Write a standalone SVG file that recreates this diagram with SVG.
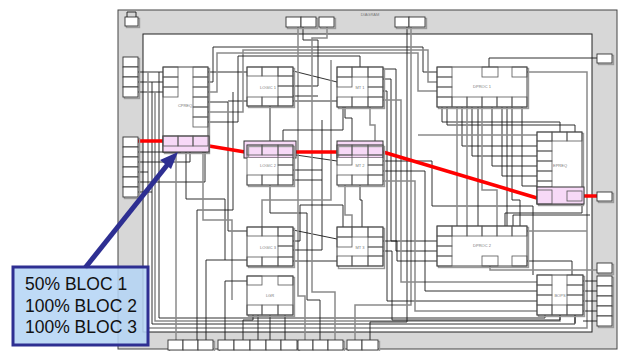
<svg xmlns="http://www.w3.org/2000/svg" width="621" height="351" viewBox="0 0 621 351">
<defs>
<style>
.bx{fill:#fff;stroke:#333;stroke-width:0.9}
.sh{fill:none;stroke:#9a9a9a;stroke-width:1.4}
.sb{fill:none;stroke:#555;stroke-width:0.8}
.k{fill:none;stroke:#1a1a1a;stroke-width:0.9}
.g{fill:none;stroke:#8a8a8a;stroke-width:1.5}
.r{fill:none;stroke:#ff0000;stroke-width:3.5;stroke-linecap:butt}
.pk{fill:#f7d9f7;stroke:#333;stroke-width:1}
.lb{font-family:"Liberation Sans",Arial,sans-serif;font-size:4px;fill:#777;text-anchor:middle}
.ct{font-family:"Liberation Sans",Arial,sans-serif;font-size:17.5px;fill:#111}
</style>
</defs>
<rect x="118" y="10" width="499" height="339" fill="#d7d7d7" stroke="#444" stroke-width="1"/>
<rect x="143" y="34" width="449" height="298" fill="#fff" stroke="#222" stroke-width="1"/>
<text class="lb" x="370" y="16">DIAGRAM</text>

<g id="connectors">
<path class="k" d="M138,72H163M138,82H163M138,92H163"/>
<path class="g" d="M148,72V328H587V72H527"/>
<path class="k" d="M152,82V324H575V315"/>
<path class="g" d="M155,92V321H560V315"/>
<path class="k" d="M159,72V318H545V315"/>
<path class="k" d="M138,152H181V148M138,162H190V148M138,182H205V148M138,172H148M138,192H152"/>
<path class="g" d="M176,152V340"/>
<path class="k" d="M186,152V199H225V260"/>
<path class="k" d="M208,72H247"/>
<path class="k" d="M208,82H213V47H423V72H437"/>
<path class="g" d="M208,92H217V53H418V91H437"/>
<path class="k" d="M208,102H228V231H247M228,101H247"/>
<path class="g" d="M208,112H243V50H428V82H437"/>
<path class="k" d="M208,122H238V56H360V67"/>
<path class="k" d="M233,92V210H197V340"/>
<path class="g" d="M203,152V220H232V300"/>
<path class="k" d="M293,71L337,82M293,101H337M270,106V145M296,155L337,161M293,230L337,239M293,261H337"/>
<path class="k" d="M247,260H206V340M247,281H225V340M253,315V320H243V340M258,315V340M285,315V340M270,315V340"/>
<path class="k" d="M270,185V213H307V300H320V340"/>
<path class="g" d="M298,27V296H305V340"/>
<path class="k" d="M303,27V40H318V86H293M318,96H293"/>
<path class="g" d="M327,27V38H312V292H335V340"/>
<path class="k" d="M322,170H293M322,180H293M322,120V250H293"/>
<path class="g" d="M331,60V200H262V227"/>
<path class="k" d="M293,241H300V205H343V227"/>
<path class="k" d="M283,145V130H343V107"/>
<path class="g" d="M345,185V215H352V227"/>
<path class="k" d="M360,185V200H362V227"/>
<path class="k" d="M345,107V118H352V145"/>
<path class="g" d="M370,107V125H375V145"/>
<path class="k" d="M407,27V322H370V340"/>
<path class="g" d="M411,27V305H355V340"/>
<path class="k" d="M383,69H396V251H437"/>
<path class="k" d="M383,79H391V241H437"/>
<path class="k" d="M383,91H387V301H537"/>
<path class="g" d="M383,100H401V282H537"/>
<path class="k" d="M383,161H432V206H533V275"/>
<path class="k" d="M383,171H425V291H537"/>
<path class="g" d="M383,181H415V311H537"/>
<path class="k" d="M383,241H397V261H437"/>
<path class="k" d="M383,251H392V320H560"/>
<path class="k" d="M442,107V122H560V132M447,107V125H575V132"/>
<path class="k" d="M462,107V146H537M472,107V156H537M492,107V166H537M502,107V176H537M522,107V186H537"/>
<path class="g" d="M457,107V226M467,107V226M482,107V190H497V226"/>
<path class="k" d="M478,107V226M507,107V226M512,107V200H520V226"/>
<path class="g" d="M418,135H537"/>
<path class="k" d="M597,58H489V67"/>
<path class="g" d="M527,231H587"/>
<path class="k" d="M527,261H572V275"/>
<path class="g" d="M490,266V270H597"/>
<path class="k" d="M505,226V213H582V204"/>
<path class="k" d="M583,281H597M583,291H597M583,301H597M583,311H597M583,321H597"/>
<path class="k" d="M560,315V320M575,315V323"/>
<path class="k" d="M513,226V215H590"/>
</g>

<g id="red-path">
<path class="r" d="M138,141H163"/>
<path class="r" d="M209,146L245,152"/>
<path class="r" d="M296,152H337"/>
<path class="r" d="M383,152L537,198"/>
<path class="r" d="M584,196H607"/>
</g>

<g id="top-icon">
<rect class="sh" x="126.5" y="18.5" width="13" height="9"/>
<rect class="bx" x="125" y="17" width="13" height="9"/>
<path class="k" d="M127,17V12H136V17"/>
</g>
<g id="top-io">
<rect class="sh" x="287.5" y="18.5" width="30" height="10"/>
<rect class="bx" x="286" y="17" width="15" height="10"/><rect class="bx" x="301" y="17" width="15" height="10"/>
<rect class="sh" x="320.5" y="18.5" width="15" height="10"/>
<rect class="bx" x="319" y="17" width="15" height="10"/>
<rect class="sh" x="396.5" y="18.5" width="30" height="10"/>
<rect class="bx" x="395" y="17" width="14" height="10"/><rect class="bx" x="409" y="17" width="16" height="10"/>
</g>
<g id="left-io-1">
<rect class="sh" x="124.5" y="58.5" width="15" height="40"/>
<rect class="bx" x="123" y="57" width="15" height="10"/><rect class="bx" x="123" y="67" width="15" height="10"/><rect class="bx" x="123" y="77" width="15" height="10"/><rect class="bx" x="123" y="87" width="15" height="10"/>
</g>
<g id="left-io-2">
<rect class="sh" x="124.5" y="138.5" width="15" height="60"/>
<rect class="bx" x="123" y="137" width="15" height="10"/><rect class="bx" x="123" y="147" width="15" height="10"/><rect class="bx" x="123" y="157" width="15" height="10"/><rect class="bx" x="123" y="167" width="15" height="10"/><rect class="bx" x="123" y="177" width="15" height="10"/><rect class="bx" x="123" y="187" width="15" height="10"/>
</g>
<g id="right-io">
<rect class="sh" x="598.5" y="55.5" width="15" height="9"/><rect class="bx" x="597" y="54" width="15" height="9"/>
<rect class="sh" x="598.5" y="193.5" width="15" height="9"/><rect class="bx" x="597" y="192" width="15" height="9"/>
<rect class="sh" x="598.5" y="264.5" width="15" height="10"/><rect class="bx" x="597" y="263" width="15" height="10"/>
<rect class="sh" x="598.5" y="277.5" width="15" height="50"/>
<rect class="bx" x="597" y="276" width="15" height="10"/><rect class="bx" x="597" y="286" width="15" height="10"/><rect class="bx" x="597" y="296" width="15" height="10"/><rect class="bx" x="597" y="306" width="15" height="10"/><rect class="bx" x="597" y="316" width="15" height="10"/>
</g>
<g id="bottom-io">
<rect class="sh" x="169.5" y="341.5" width="45" height="10"/>
<rect class="bx" x="168" y="340" width="15" height="10"/><rect class="bx" x="183" y="340" width="15" height="10"/><rect class="bx" x="198" y="340" width="15" height="10"/>
<rect class="sh" x="219.5" y="341.5" width="79" height="10"/>
<rect class="bx" x="218" y="340" width="16" height="10"/><rect class="bx" x="234" y="340" width="16" height="10"/><rect class="bx" x="250" y="340" width="16" height="10"/><rect class="bx" x="266" y="340" width="15" height="10"/><rect class="bx" x="281" y="340" width="16" height="10"/>
<rect class="sh" x="299.5" y="341.5" width="45" height="10"/>
<rect class="bx" x="298" y="340" width="15" height="10"/><rect class="bx" x="313" y="340" width="15" height="10"/><rect class="bx" x="328" y="340" width="15" height="10"/>
<rect class="sh" x="348.5" y="341.5" width="31" height="10"/>
<rect class="bx" x="347" y="340" width="15" height="10"/><rect class="bx" x="362" y="340" width="16" height="10"/>
</g>

<g id="cpreq">
<rect class="sh" x="164.5" y="68.5" width="45" height="85"/>
<rect class="bx" x="163" y="67" width="45" height="85"/>
<rect class="sb" x="163" y="67" width="15" height="10"/><rect class="sb" x="163" y="77" width="15" height="10"/><rect class="sb" x="163" y="87" width="15" height="10"/>
<rect class="sb" x="193" y="67" width="15" height="10"/><rect class="sb" x="193" y="77" width="15" height="10"/><rect class="sb" x="193" y="87" width="15" height="10"/><rect class="sb" x="193" y="97" width="15" height="10"/><rect class="sb" x="193" y="107" width="15" height="10"/><rect class="sb" x="193" y="117" width="15" height="10"/>
<rect class="pk" x="163" y="136" width="46" height="16"/>
<rect class="sb" x="163" y="136" width="15" height="10"/><rect class="sb" x="178" y="136" width="15" height="10"/><rect class="sb" x="193" y="136" width="15" height="10"/>
<text class="lb" x="185" y="107">CPREQ</text>
</g>

<g id="logic1">
<rect class="sh" x="248.5" y="68.5" width="46" height="39"/>
<rect class="bx" x="247" y="67" width="46" height="39"/>
<rect class="sb" x="247" y="67" width="15" height="9"/><rect class="sb" x="262" y="67" width="16" height="9"/><rect class="sb" x="278" y="67" width="15" height="9"/>
<rect class="sb" x="278" y="76" width="15" height="10"/><rect class="sb" x="278" y="86" width="15" height="11"/>
<rect class="sb" x="247" y="97" width="15" height="9"/><rect class="sb" x="262" y="97" width="16" height="9"/><rect class="sb" x="278" y="97" width="15" height="9"/>
<text class="lb" x="268" y="89">LOGIC 1</text>
</g>
<g id="logic2">
<rect x="244" y="141" width="52" height="17" fill="#f7d9f7" stroke="#333" stroke-width="1"/>
<rect class="sh" x="248.5" y="146.5" width="46" height="40"/>
<rect x="247" y="158" width="46" height="27" fill="#fff"/>
<rect class="sb" x="247" y="145" width="46" height="40"/>
<rect class="sb" x="247" y="145" width="15" height="10"/><rect class="sb" x="262" y="145" width="16" height="10"/><rect class="sb" x="278" y="145" width="15" height="10"/>
<rect class="sb" x="278" y="155" width="15" height="10"/><rect class="sb" x="278" y="165" width="15" height="10"/>
<rect class="sb" x="247" y="175" width="15" height="10"/><rect class="sb" x="262" y="175" width="16" height="10"/><rect class="sb" x="278" y="175" width="15" height="10"/>
<text class="lb" x="268" y="167">LOGIC 2</text>
</g>
<g id="logic3">
<rect class="sh" x="248.5" y="228.5" width="46" height="39"/>
<rect class="bx" x="247" y="227" width="46" height="39"/>
<rect class="sb" x="247" y="227" width="15" height="9"/><rect class="sb" x="262" y="227" width="16" height="9"/><rect class="sb" x="278" y="227" width="15" height="9"/>
<rect class="sb" x="278" y="236" width="15" height="10"/><rect class="sb" x="278" y="246" width="15" height="11"/>
<rect class="sb" x="247" y="257" width="15" height="9"/><rect class="sb" x="262" y="257" width="16" height="9"/><rect class="sb" x="278" y="257" width="15" height="9"/>
<text class="lb" x="268" y="249">LOGIC 3</text>
</g>
<g id="lgr">
<rect class="sh" x="248.5" y="277.5" width="46" height="39"/>
<rect class="bx" x="247" y="276" width="46" height="39"/>
<rect class="sb" x="247" y="276" width="15" height="9"/><rect class="sb" x="278" y="276" width="15" height="9"/>
<rect class="sb" x="247" y="305" width="15" height="10"/><rect class="sb" x="262" y="305" width="16" height="10"/><rect class="sb" x="278" y="305" width="15" height="10"/>
<text class="lb" x="270" y="297">LGR</text>
</g>

<g id="mt1">
<rect class="sh" x="338.5" y="68.5" width="46" height="40"/>
<rect class="bx" x="337" y="67" width="46" height="40"/>
<rect class="sb" x="337" y="67" width="15" height="10"/><rect class="sb" x="352" y="67" width="16" height="10"/><rect class="sb" x="368" y="67" width="15" height="10"/>
<rect class="sb" x="337" y="77" width="15" height="10"/><rect class="sb" x="368" y="77" width="15" height="10"/><rect class="sb" x="368" y="87" width="15" height="10"/>
<rect class="sb" x="337" y="97" width="15" height="10"/><rect class="sb" x="352" y="97" width="16" height="10"/><rect class="sb" x="368" y="97" width="15" height="10"/>
<text class="lb" x="360" y="89">MT 1</text>
</g>
<g id="mt2">
<rect x="337" y="141" width="46" height="17" fill="#f7d9f7" stroke="#333" stroke-width="1"/>
<rect class="sh" x="338.5" y="146.5" width="46" height="40"/>
<rect x="337" y="158" width="46" height="27" fill="#fff"/>
<rect class="sb" x="337" y="145" width="46" height="40"/>
<rect class="sb" x="337" y="145" width="15" height="10"/><rect class="sb" x="352" y="145" width="16" height="10"/><rect class="sb" x="368" y="145" width="15" height="10"/>
<rect class="sb" x="337" y="155" width="15" height="10"/><rect class="sb" x="368" y="155" width="15" height="10"/><rect class="sb" x="368" y="165" width="15" height="10"/>
<rect class="sb" x="337" y="175" width="15" height="10"/><rect class="sb" x="352" y="175" width="16" height="10"/><rect class="sb" x="368" y="175" width="15" height="10"/>
<text class="lb" x="360" y="167">MT 2</text>
</g>
<g id="mt3">
<rect class="sh" x="338.5" y="228.5" width="46" height="40"/>
<rect class="bx" x="337" y="227" width="46" height="39"/>
<rect class="sb" x="337" y="227" width="15" height="10"/><rect class="sb" x="352" y="227" width="16" height="10"/><rect class="sb" x="368" y="227" width="15" height="10"/>
<rect class="sb" x="337" y="237" width="15" height="10"/><rect class="sb" x="368" y="237" width="15" height="10"/><rect class="sb" x="368" y="247" width="15" height="9"/>
<rect class="sb" x="337" y="256" width="15" height="10"/><rect class="sb" x="352" y="256" width="16" height="10"/><rect class="sb" x="368" y="256" width="15" height="10"/>
<text class="lb" x="360" y="249">MT 3</text>
</g>

<g id="dproc1">
<rect class="sh" x="438.5" y="68.5" width="90" height="40"/>
<rect class="bx" x="437" y="67" width="90" height="40"/>
<rect class="sb" x="437" y="67" width="15" height="10"/><rect class="sb" x="437" y="77" width="15" height="10"/><rect class="sb" x="437" y="87" width="15" height="10"/>
<rect class="sb" x="482" y="67" width="16" height="10"/><rect class="sb" x="512" y="67" width="15" height="10"/>
<rect class="sb" x="437" y="97" width="15" height="10"/><rect class="sb" x="452" y="97" width="15" height="10"/><rect class="sb" x="467" y="97" width="15" height="10"/><rect class="sb" x="482" y="97" width="15" height="10"/><rect class="sb" x="497" y="97" width="15" height="10"/><rect class="sb" x="512" y="97" width="15" height="10"/>
<text class="lb" x="482" y="88">DPROC 1</text>
</g>
<g id="dproc2">
<rect class="sh" x="438.5" y="227.5" width="90" height="40"/>
<rect class="bx" x="437" y="226" width="90" height="40"/>
<rect class="sb" x="437" y="226" width="15" height="10"/><rect class="sb" x="452" y="226" width="15" height="10"/><rect class="sb" x="467" y="226" width="15" height="10"/><rect class="sb" x="482" y="226" width="15" height="10"/><rect class="sb" x="497" y="226" width="15" height="10"/><rect class="sb" x="512" y="226" width="15" height="10"/>
<rect class="sb" x="437" y="236" width="15" height="10"/><rect class="sb" x="437" y="246" width="15" height="10"/><rect class="sb" x="437" y="256" width="15" height="10"/>
<rect class="sb" x="482" y="256" width="16" height="10"/><rect class="sb" x="512" y="256" width="15" height="10"/>
<text class="lb" x="482" y="247">DPROC 2</text>
</g>

<g id="epreq">
<rect class="sh" x="538.5" y="133.5" width="45" height="72"/>
<rect class="bx" x="537" y="132" width="45" height="72"/>
<rect class="sb" x="537" y="132" width="15" height="9"/><rect class="sb" x="552" y="132" width="15" height="9"/><rect class="sb" x="567" y="132" width="15" height="9"/>
<rect class="sb" x="537" y="141" width="15" height="10"/><rect class="sb" x="537" y="151" width="15" height="10"/><rect class="sb" x="537" y="161" width="15" height="10"/><rect class="sb" x="537" y="171" width="15" height="10"/><rect class="sb" x="537" y="181" width="15" height="6"/>
<rect class="pk" x="537" y="187" width="47" height="17"/>
<rect class="sb" x="537" y="190" width="15" height="14"/><rect class="sb" x="567" y="191" width="15" height="10"/>
<text class="lb" x="560" y="167">EPREQ</text>
</g>
<g id="bops">
<rect class="sh" x="538.5" y="276.5" width="46" height="40"/>
<rect class="bx" x="537" y="275" width="46" height="40"/>
<rect class="sb" x="537" y="275" width="15" height="10"/><rect class="sb" x="537" y="285" width="15" height="10"/><rect class="sb" x="537" y="295" width="15" height="10"/>
<rect class="sb" x="567" y="275" width="16" height="10"/><rect class="sb" x="567" y="285" width="16" height="10"/><rect class="sb" x="567" y="295" width="16" height="10"/>
<rect class="sb" x="537" y="305" width="15" height="10"/><rect class="sb" x="552" y="305" width="15" height="10"/><rect class="sb" x="567" y="305" width="16" height="10"/>
<text class="lb" x="560" y="297">BOPS</text>
</g>

<g id="callout">
<path d="M85,268L168,164" stroke="#2e2f92" stroke-width="5" fill="none"/>
<path d="M178,152L160,160L171,169Z" fill="#2e2f92"/>
<rect x="13" y="267" width="135" height="78" fill="#b5d5f5" fill-opacity="0.88" stroke="#2e2f92" stroke-width="3"/>
<text class="ct" x="25" y="290">50% BLOC 1</text>
<text class="ct" x="25" y="312">100% BLOC 2</text>
<text class="ct" x="25" y="333">100% BLOC 3</text>
</g>
</svg>
